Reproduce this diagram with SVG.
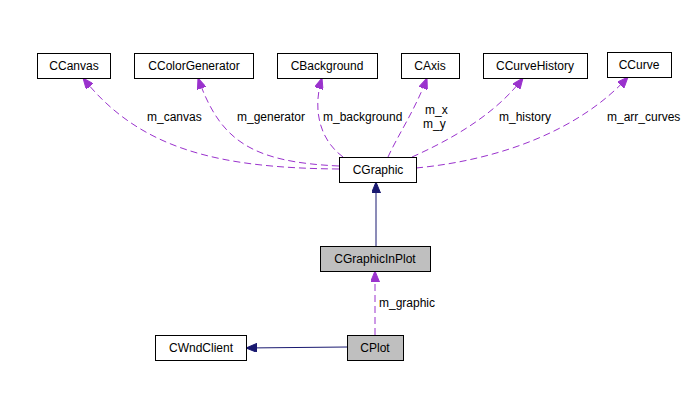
<svg xmlns="http://www.w3.org/2000/svg" width="700" height="400" viewBox="0 0 700 400">
<style>
.box{fill:#ffffff;stroke:#000000;stroke-width:1}
.gray{fill:#bfbfbf;stroke:#000000;stroke-width:1}
text{font-family:"Liberation Sans",Arial,sans-serif;font-size:12px;fill:#000000}
.c{text-anchor:middle}
.use{fill:none;stroke:#9a32cd;stroke-width:1;stroke-dasharray:7,4}
.inh{fill:none;stroke:#191970;stroke-width:1}
</style>
<defs>
<marker id="ap" viewBox="0 0 11 9" refX="11" refY="4.5" markerWidth="11" markerHeight="9" markerUnits="userSpaceOnUse" orient="auto">
<path d="M0,0 L11,4.5 L0,9 z" fill="#9a32cd" stroke="#9a32cd"/>
</marker>
<marker id="an" viewBox="0 0 11 9" refX="11" refY="4.5" markerWidth="11" markerHeight="9" markerUnits="userSpaceOnUse" orient="auto">
<path d="M0,0 L11,4.5 L0,9 z" fill="#191970" stroke="#191970"/>
</marker>
</defs>
<g id="edges">
<path class="use" d="M339,169 C220,168 140,150 83,78" marker-end="url(#ap)"/>
<path class="use" d="M339,166 C250,162 220,140 198,78" marker-end="url(#ap)"/>
<path class="use" d="M343,157 C320,140 312,110 322,78" marker-end="url(#ap)"/>
<path class="use" d="M388,157 C398,135 415,110 427,78" marker-end="url(#ap)"/>
<path class="use" d="M412,157 C450,140 495,115 523,78" marker-end="url(#ap)"/>
<path class="use" d="M416,168 C500,160 580,130 628,77" marker-end="url(#ap)"/>
<path class="inh" d="M376,246 L376,182" marker-end="url(#an)"/>
<path class="use" d="M375,335 L375,271" marker-end="url(#ap)"/>
<path class="inh" d="M347,347 L246,348" marker-end="url(#an)"/>
<text x="147" y="121">m_canvas</text>
<text x="237" y="121">m_generator</text>
<text x="323" y="121">m_background</text>
<text x="425" y="114">m_x</text>
<text x="423" y="128">m_y</text>
<text x="499" y="121">m_history</text>
<text x="607" y="121">m_arr_curves</text>
<text x="379" y="307">m_graphic</text>
</g>
<g id="CCanvas"><rect class="box" x="37.5" y="53.5" width="73" height="25"/><text class="c" x="74" y="70">CCanvas</text></g>
<g id="CColorGenerator"><rect class="box" x="134.5" y="53.5" width="119" height="25"/><text class="c" x="194" y="70">CColorGenerator</text></g>
<g id="CBackground"><rect class="box" x="277.5" y="53.5" width="100" height="25"/><text class="c" x="327" y="70">CBackground</text></g>
<g id="CAxis"><rect class="box" x="401.5" y="53.5" width="58" height="25"/><text class="c" x="430" y="70">CAxis</text></g>
<g id="CCurveHistory"><rect class="box" x="483.5" y="53.5" width="104" height="25"/><text class="c" x="535" y="70">CCurveHistory</text></g>
<g id="CCurve"><rect class="box" x="607.5" y="52.5" width="64" height="25"/><text class="c" x="639" y="69">CCurve</text></g>
<g id="CGraphic"><rect class="box" x="339.5" y="157.5" width="77" height="25"/><text class="c" x="378" y="174">CGraphic</text></g>
<g id="CGraphicInPlot"><rect class="gray" x="320.5" y="246.5" width="110" height="25"/><text class="c" x="375" y="263">CGraphicInPlot</text></g>
<g id="CPlot"><rect class="gray" x="347.5" y="335.5" width="56" height="25"/><text class="c" x="375" y="352">CPlot</text></g>
<g id="CWndClient"><rect class="box" x="155.5" y="335.5" width="91" height="25"/><text class="c" x="201" y="352">CWndClient</text></g>
</svg>
